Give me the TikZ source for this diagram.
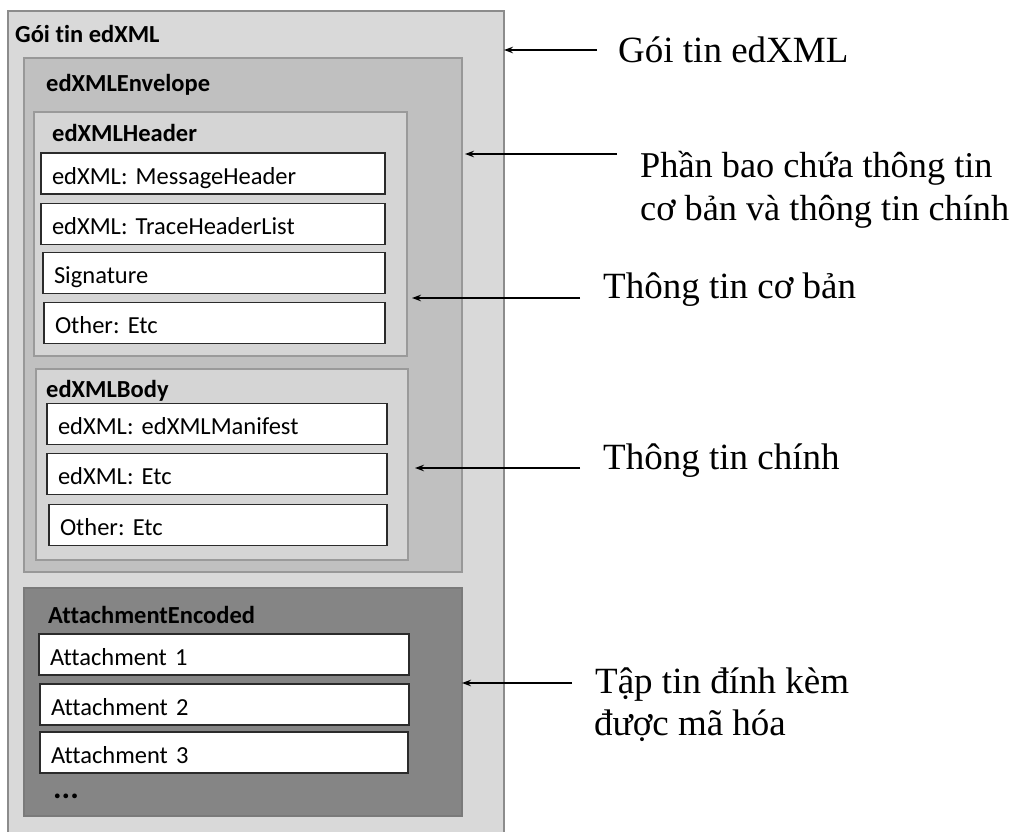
\documentclass[tikz,border=0pt]{standalone}
\usepackage{fontspec}
\setmainfont{Liberation Serif}
\newfontfamily\boxfont[Ligatures={NoCommon,NoRare,NoDiscretionary}]{Carlito}
\usetikzlibrary{arrows.meta}
\frenchspacing

\definecolor{pkgfill}{HTML}{D9D9D9}
\definecolor{pkgedge}{HTML}{8C8C8C}
\definecolor{envfill}{HTML}{C0C0C0}
\definecolor{envedge}{HTML}{989898}
\definecolor{partfill}{HTML}{D5D5D5}
\definecolor{partedge}{HTML}{9A9A9A}
\definecolor{attfill}{HTML}{858585}
\definecolor{attedge}{HTML}{7A7A7A}
\definecolor{itemedge}{HTML}{2B2B2B}

\tikzset{
  region/.style={draw, rectangle, inner sep=0pt, outer sep=0pt, anchor=north west, line width=1.2pt},
  item/.style={draw=itemedge, fill=white, line width=1.6pt, rectangle, anchor=north west,
    outer sep=0pt, inner xsep=11pt, inner ysep=0pt, text width=#1, align=left,
    minimum height=41pt, text height=27pt, text depth=6pt,
    font=\boxfont\fontsize{24.5}{28}\selectfont},
  boxtitle/.style={anchor=base west, inner sep=0pt, font=\boxfont\bfseries\fontsize{24.5}{28}\selectfont},
  note/.style={anchor=base west, inner sep=0pt, font=\fontsize{37}{43}\selectfont},
  arr/.style={-{Stealth[length=9pt,width=6.5pt]}, line width=1.6pt, black}
}

\begin{document}
\begin{tikzpicture}[x=1pt,y=-1pt]
\useasboundingbox (0,0) rectangle (1020,832);
\fill[white] (0,0) rectangle (1020,832);
\clip (0,0) rectangle (1020,832);

% nested containers
\node[region, draw=pkgedge, fill=pkgfill, minimum width=496pt, minimum height=830pt] (pkg) at (8,11) {};
\node[region, draw=envedge, fill=envfill, minimum width=438pt, minimum height=514pt] (env) at (24,58) {};
\node[region, draw=partedge, fill=partfill, minimum width=373pt, minimum height=244pt] (hdr) at (34,112) {};
\node[region, draw=partedge, fill=partfill, minimum width=372pt, minimum height=191pt] (body) at (36,369) {};
\node[region, draw=attedge, fill=attfill, minimum width=438pt, minimum height=228pt] (att) at (24,588) {};

% container titles
\node[boxtitle] (tpkg) at (15,43) {Gói tin edXML};
\node[boxtitle] (tenv) at (46,92) {edXMLEnvelope};
\node[boxtitle] (thdr) at (52,142) {edXMLHeader};
\node[boxtitle] (tbody) at (46,397) {edXMLBody};
\node[boxtitle] (tatt) at (48,623) {AttachmentEncoded};

% header entries
\node[item=322pt] (h1) at (41,153) {edXML: MessageHeader};
\node[item=322pt] (h2) at (41,203.5) {edXML: TraceHeaderList};
\node[item=320pt] (h3) at (43,252.5) {Signature};
\node[item=319pt] (h4) at (44,302.5) {Other: Etc};

% body entries
\node[item=318pt] (b1) at (47,403.5) {edXML: edXMLManifest};
\node[item=318pt] (b2) at (47,453.5) {edXML: Etc};
\node[item=316pt] (b3) at (49,504.5) {Other: Etc};

% attachments
\node[item=348pt] (a1) at (39,634) {Attachment 1};
\node[item=347pt] (a2) at (40,684) {Attachment 2};
\node[item=346pt] (a3) at (40,732) {Attachment 3};
\node[boxtitle, font=\boxfont\bfseries\fontsize{32}{36}\selectfont] (more) at (53,798) {...};

% explanations on the right
\node[note] (n1) at (618,63) {Gói tin edXML};
\node[note, font=\fontsize{36.3}{43}\selectfont] (n2a) at (640,177) {Phần bao chứa thông tin};
\node[note, font=\fontsize{36.3}{43}\selectfont] (n2b) at (640,220) {cơ bản và thông tin chính};
\node[note] (n3) at (603,298) {Thông tin cơ bản};
\node[note] (n4) at (603,469) {Thông tin chính};
\node[note] (n5a) at (595,693) {Tập tin đính kèm};
\node[note] (n5b) at (594,735) {được mã hóa};

% arrow tails
\coordinate (t1) at (597,50);
\coordinate (t2) at (617,154);
\coordinate (t3) at (580,298);
\coordinate (t4) at (580,468);
\coordinate (t5) at (572,683);

\draw[arr] (t1) -- (t1 -| pkg.east);
\draw[arr, shorten >=3pt] (t2) -- (t2 -| env.east);
\draw[arr, shorten >=5pt] (t3) -- (t3 -| hdr.east);
\draw[arr, shorten >=7pt] (t4) -- (t4 -| body.east);
\draw[arr] (t5) -- (t5 -| att.east);
\end{tikzpicture}
\end{document}
